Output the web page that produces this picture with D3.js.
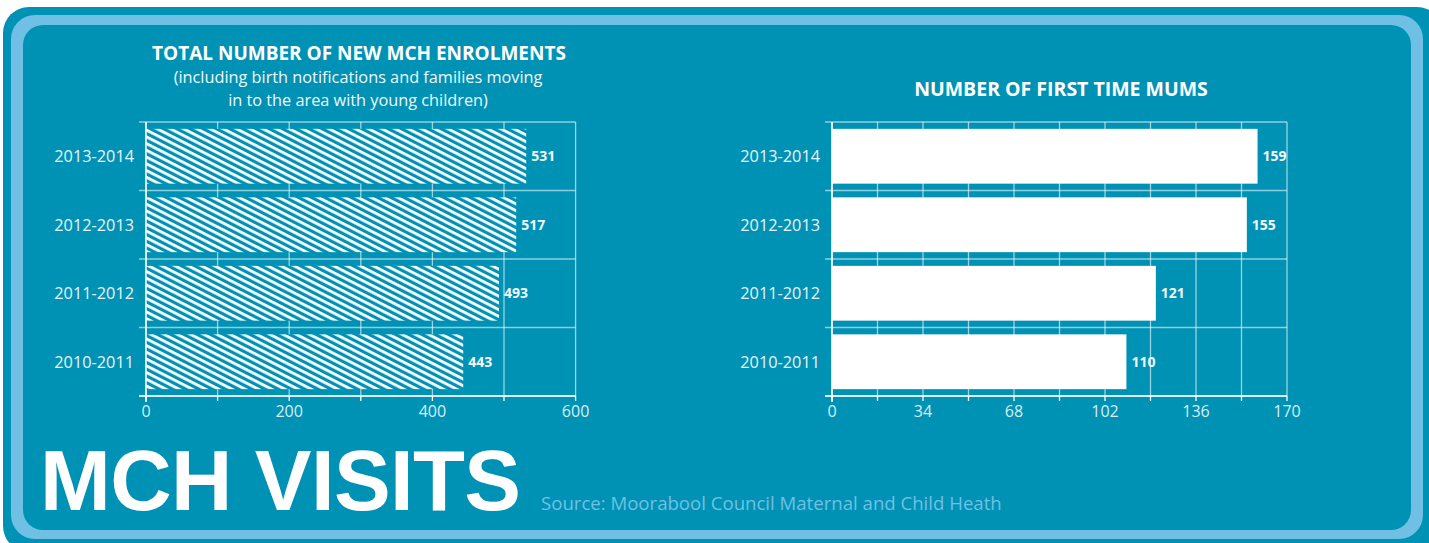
<!DOCTYPE html>
<html><head><meta charset="utf-8">
<script src="https://cdn.jsdelivr.net/npm/d3@7"></script>
<style>html,body{margin:0;padding:0;background:#fff;}svg{display:block;}</style>
</head><body>
<svg id="c" width="1429" height="543"></svg>
<script>
const categories = ["2013-2014","2012-2013","2011-2012","2010-2011"];
const enrolments = [531,517,493,443];
const firstTimeMums = [159,155,121,110];
const leftTicks = [0,200,400,600];
const leftGrid = [0,100,200,300,400,500,600];
const rightTicks = [0,34,68,102,136,170];
const rightGrid = [0,17,34,51,68,85,102,119,136,153,170];

const DARK = "#0092b4", LIGHT = "#70c0e6";
const svg = d3.select("#c");
const FONT = "'Open Sans', sans-serif";

// frame
svg.append("rect").attr("x",3).attr("y",7).attr("width",1440).attr("height",545).attr("rx",26).attr("fill",DARK);
svg.append("rect").attr("x",11).attr("y",15).attr("width",1412).attr("height",524).attr("rx",24).attr("fill",LIGHT);
svg.append("rect").attr("x",23).attr("y",25).attr("width",1388).attr("height",505).attr("rx",20).attr("fill",DARK);

// hatch pattern
const defs = svg.append("defs");
const pat = defs.append("pattern").attr("id","hatch").attr("patternUnits","userSpaceOnUse")
  .attr("width",12).attr("height",6).attr("patternTransform","rotate(27)");
pat.append("rect").attr("width",12).attr("height",6).attr("fill",DARK);
pat.append("rect").attr("x",0).attr("y",0).attr("width",12).attr("height",2.8).attr("fill","#fff");

function chart(opts){
  const {x0,x1,y0,y1,max,vals,ticks,grid,fill} = opts;
  const g = svg.append("g");
  const x = d3.scaleLinear().domain([0,max]).range([x0,x1]);
  const y = d3.scaleBand().domain(categories).range([y0,y1]).paddingInner(0.2).paddingOuter(0.1);
  const step = y.step();
  g.selectAll(".vg").data(grid).join("line")
    .attr("x1",d=>x(d)).attr("x2",d=>x(d)).attr("y1",y0).attr("y2",y1)
    .attr("stroke","rgba(255,255,255,0.6)").attr("stroke-width",1.3);
  const bounds = d3.range(categories.length+1).map(i=>y0+ (i===0?0:i===categories.length? (y1-y0) : (y.paddingOuter()*step + i*step - y.paddingInner()*step/2)));
  g.selectAll(".hg").data(bounds).join("line")
    .attr("x1",x0-7).attr("x2",x1).attr("y1",d=>d).attr("y2",d=>d)
    .attr("stroke","rgba(255,255,255,0.55)").attr("stroke-width",1.3);
  g.selectAll(".bar").data(vals).join("rect")
    .attr("x",x0).attr("y",(d,i)=>y(categories[i])).attr("height",y.bandwidth())
    .attr("width",d=>x(d)-x0).attr("fill",fill);
  g.selectAll(".vl").data(vals).join("text")
    .attr("x",d=>x(d)+5).attr("y",(d,i)=>y(categories[i])+y.bandwidth()/2+5)
    .attr("fill","#f2f7f9").attr("font-family",FONT).attr("font-weight","bold").attr("font-size",14)
    .text(d=>d);
  g.append("line").attr("x1",x0).attr("x2",x0).attr("y1",y0).attr("y2",y1+6).attr("stroke","#fff").attr("stroke-width",1.5);
  g.append("line").attr("x1",x0-7).attr("x2",x1).attr("y1",y1).attr("y2",y1).attr("stroke","#fff").attr("stroke-width",1.5);
  g.selectAll(".bt").data(grid).join("line")
    .attr("x1",d=>x(d)).attr("x2",d=>x(d)).attr("y1",y1).attr("y2",y1+5).attr("stroke","#fff").attr("stroke-width",1.3);
  g.selectAll(".xl").data(ticks).join("text")
    .attr("x",d=>x(d)).attr("y",y1+21).attr("text-anchor","middle")
    .attr("fill","#d9eef5").attr("font-family",FONT).attr("font-size",16).text(d=>d);
  g.selectAll(".yl").data(categories).join("text")
    .attr("x",x0-12).attr("y",d=>y(d)+y.bandwidth()/2+6).attr("text-anchor","end")
    .attr("fill","#e8f4f8").attr("font-family",FONT).attr("font-size",16.3).text(d=>d);
}

chart({x0:146,x1:575.6,y0:122,y1:396,max:600,vals:enrolments,ticks:leftTicks,grid:leftGrid,fill:"url(#hatch)"});
chart({x0:832,x1:1287,y0:122,y1:396,max:170,vals:firstTimeMums,ticks:rightTicks,grid:rightGrid,fill:"#fff"});

// titles
svg.append("text").attr("x",359).attr("y",60).attr("text-anchor","middle").attr("fill","#fff")
  .attr("font-family",FONT).attr("font-weight","bold").attr("font-size",19).text("TOTAL NUMBER OF NEW MCH ENROLMENTS");
svg.append("text").attr("x",358).attr("y",83).attr("text-anchor","middle").attr("fill","#f0f8fb")
  .attr("font-family",FONT).attr("font-size",16.3).text("(including birth notifications and families moving");
svg.append("text").attr("x",358).attr("y",106).attr("text-anchor","middle").attr("fill","#f0f8fb")
  .attr("font-family",FONT).attr("font-size",16.3).text("in to the area with young children)");
svg.append("text").attr("x",1061).attr("y",96).attr("text-anchor","middle").attr("fill","#fff")
  .attr("font-family",FONT).attr("font-weight","bold").attr("font-size",19.5).text("NUMBER OF FIRST TIME MUMS");

svg.append("text").attr("x",40).attr("y",510).attr("fill","#fff").attr("letter-spacing",-0.6)
  .attr("font-family","'Liberation Sans', Arial, sans-serif").attr("font-weight","bold").attr("font-size",85).text("MCH VISITS");
svg.append("text").attr("x",541).attr("y",510).attr("fill",LIGHT)
  .attr("font-family",FONT).attr("font-size",18.6).text("Source: Moorabool Council Maternal and Child Heath");
</script>
</body></html>
